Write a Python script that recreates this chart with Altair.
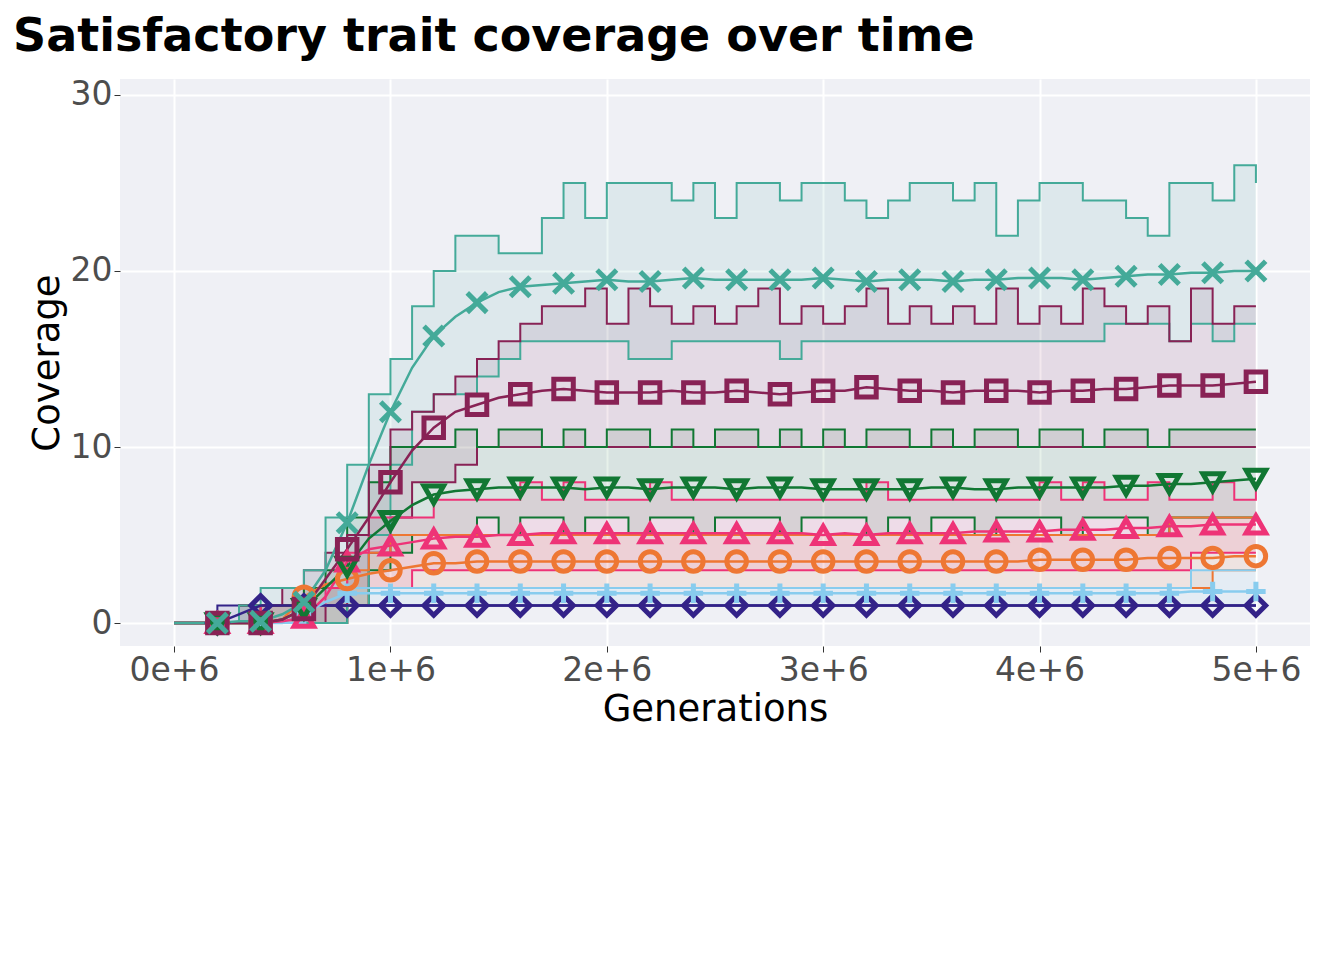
import altair as alt
import pandas as pd

generations = [i * 100000 for i in range(51)]
sigmas = ["0", "0.1", "0.3", "0.6", "1.2", "2.5", "5"]
colors = ["#332288", "#88CCEE", "#EE7733", "#EE3377", "#117733", "#882255", "#44AA99"]
shapes = [
    "diamond",
    "M0,-1L0,1M-1,0L1,0",
    "circle",
    "triangle-up",
    "triangle-down",
    "square",
    "M-1,-1L1,1M-1,1L1,-1",
]

median = {
    "0": [0, 0, 0, 0.5, 1] + [1] * 46,
    "0.1": [0, 0, 0, 0, 0, 0, 0.5, 1.2] + [1.7] * 39 + [1.8] * 4,
    "0.3": [0, 0, 0, 0, 0, 0.2, 1.5, 2.2, 2.5, 2.8, 3.0, 3.2, 3.4, 3.4] + [3.5] * 26
    + [3.6, 3.6, 3.6, 3.6, 3.6, 3.7, 3.7, 3.7, 3.7, 3.8, 3.8],
    "0.6": [0, 0, 0, 0, 0, 0.1, 0.3, 1.5, 3.5, 4.2, 4.4, 4.6, 4.8, 4.9, 4.9, 5.0, 5.0, 5.1,
            5.1, 5.1, 5.1, 5.1, 5.1, 5.1, 5.1, 5.1, 5.1, 5.1, 5.1, 5.1, 5.0, 5.1, 5.0, 5.1,
            5.1, 5.1, 5.1, 5.2, 5.2, 5.2, 5.2, 5.3, 5.3, 5.3, 5.4, 5.4, 5.5, 5.5, 5.6, 5.6, 5.6],
    "1.2": [0, 0, 0, 0, 0, 0.2, 0.8, 2, 3.2, 4.8, 5.8, 6.7, 7.3, 7.5, 7.6, 7.7, 7.7, 7.7,
            7.7, 7.6, 7.7, 7.7, 7.6, 7.7, 7.7, 7.7, 7.6, 7.7, 7.7, 7.7, 7.6, 7.6, 7.6, 7.6,
            7.6, 7.7, 7.7, 7.6, 7.6, 7.7, 7.7, 7.7, 7.7, 7.7, 7.8, 7.8, 7.9, 7.9, 8.0, 8.1, 8.2],
    "2.5": [0, 0, 0, 0, 0, 0.2, 0.8, 2.5, 4.2, 6, 8, 9.8, 11.1, 12, 12.4, 12.8, 13.0, 13.2,
            13.3, 13.2, 13.1, 13.1, 13.1, 13.2, 13.1, 13.1, 13.2, 13.1, 13.0, 13.1, 13.2,
            13.2, 13.4, 13.3, 13.2, 13.2, 13.1, 13.2, 13.2, 13.2, 13.1, 13.2, 13.2, 13.3,
            13.3, 13.4, 13.5, 13.5, 13.5, 13.6, 13.7],
    "5": [0, 0, 0, 0.1, 0.1, 0.5, 1.2, 3, 5.7, 9, 12, 14.5, 16.3, 17.4, 18.2, 18.8, 19.1,
          19.2, 19.3, 19.4, 19.5, 19.4, 19.4, 19.5, 19.6, 19.5, 19.5, 19.5, 19.5, 19.5,
          19.6, 19.5, 19.4, 19.5, 19.5, 19.5, 19.4, 19.5, 19.5, 19.6, 19.6, 19.6, 19.5,
          19.6, 19.7, 19.8, 19.8, 19.9, 19.9, 20.0, 20.0],
}
upper = {
    "0": [0, 0, 1, 1] + [1] * 47,
    "0.1": [0, 0, 0, 0, 0, 0, 1, 2] + [2] * 39 + [3] * 4,
    "0.3": [0, 0, 0, 0, 1, 1, 2, 2, 3, 4] + [5] * 36 + [6] * 5,
    "0.6": [0, 0, 0, 0, 1, 1, 1, 2, 4, 6, 6, 6, 7, 7, 7, 7, 8, 7, 8, 7, 7, 7, 8, 7, 7, 7,
            7, 7, 7, 7, 7, 7, 8, 7, 7, 7, 7, 7, 7, 7, 8, 7, 8, 7, 7, 8, 7, 7, 8, 7, 8],
    "1.2": [0, 0, 0, 1, 1, 1, 2, 3, 6, 8, 10, 10, 10, 11, 10, 11, 11, 10, 11, 10, 11, 11,
            10, 11, 10, 11, 11, 10, 11, 10, 11, 10, 11, 11, 10, 11, 10, 11, 11, 10, 11, 11,
            10, 11, 11, 10, 11, 11, 11, 11, 11],
    "2.5": [0, 0, 0, 1, 1, 2, 3, 4, 5, 9, 11, 12, 13, 14, 15, 16, 17, 18, 18, 19, 17, 19,
            18, 17, 18, 17, 18, 19, 17, 18, 17, 18, 19, 17, 18, 17, 18, 17, 19, 17, 18, 17,
            19, 18, 17, 18, 16, 19, 17, 18, 18],
    "5": [0, 0, 0, 1, 2, 2, 3, 6, 9, 13, 15, 18, 20, 22, 22, 21, 21, 23, 25, 23, 25, 25,
          25, 24, 25, 23, 25, 25, 24, 25, 25, 24, 23, 24, 25, 25, 24, 25, 22, 24, 25, 25,
          24, 24, 23, 22, 25, 25, 24, 26, 25],
}
lower = {
    "0": [0, 0, 0, 0] + [1] * 47,
    "0.1": [0] * 8 + [1] * 43,
    "0.3": [0] * 8 + [1] + [2] * 39 + [3] * 3,
    "0.6": [0] * 8 + [1, 2, 2] + [3] * 36 + [4] * 4,
    "1.2": [0, 0, 0, 0, 0, 0, 0, 0, 1, 3, 4, 5, 5, 5, 6, 5, 6, 6, 5, 6, 6, 5, 6, 6, 5, 6,
            6, 6, 5, 6, 6, 6, 5, 6, 5, 6, 6, 5, 6, 6, 6, 5, 6, 6, 6, 5, 6, 6, 6, 6, 6],
    "2.5": [0, 0, 0, 0, 0, 0, 0, 1, 2, 4, 6, 8, 8, 9] + [10] * 37,
    "5": [0, 0, 0, 0, 0, 0, 0, 0, 1, 5, 9, 12, 13, 13, 14, 15, 16, 16, 16, 16, 16, 15, 15,
          16, 16, 16, 16, 16, 15, 16, 16, 16, 16, 16, 16, 16, 16, 16, 16, 16, 16, 16, 16,
          17, 17, 17, 16, 17, 16, 17, 17],
}

rows = []
for s in sigmas:
    for i, g in enumerate(generations):
        rows.append({"gen": g, "sigma": s, "med": median[s][i],
                     "lo": lower[s][i], "hi": upper[s][i]})
df = pd.DataFrame(rows)

x = alt.X("gen:Q", title="Generations",
          scale=alt.Scale(domain=[-250000, 5250000], nice=False, zero=False),
          axis=alt.Axis(values=[0, 1e6, 2e6, 3e6, 4e6, 5e6],
                        labelExpr="datum.value == 0 ? '0e+6' : (datum.value/1e6) + 'e+6'"))
y = alt.Y("med:Q", title="Coverage",
          scale=alt.Scale(domain=[-1.3, 30.9], nice=False, zero=False),
          axis=alt.Axis(values=[0, 10, 20, 30]))
scale = alt.Scale(domain=sigmas, range=colors)
plain_color = alt.Color("sigma:N", sort=sigmas, legend=None, scale=scale)
color = alt.Color("sigma:N", title="Sigma", sort=sigmas, scale=scale)
shape = alt.Shape("sigma:N", title="Sigma", sort=sigmas,
                  scale=alt.Scale(domain=sigmas, range=shapes))

base = alt.Chart(df)
band = base.mark_area(opacity=0.1, interpolate="step-after").encode(
    x=x, y=alt.Y("lo:Q"), y2="hi:Q", color=plain_color)
hi_line = base.mark_line(strokeWidth=2, interpolate="step-after").encode(
    x=x, y=alt.Y("hi:Q"), color=plain_color)
lo_line = base.mark_line(strokeWidth=2, interpolate="step-after").encode(
    x=x, y=alt.Y("lo:Q"), color=plain_color)
med_line = base.mark_line(strokeWidth=2.5).encode(x=x, y=y, color=plain_color)
points = base.transform_filter(
    "datum.gen > 0 && datum.gen % 200000 == 0"
).mark_point(filled=False, size=380, strokeWidth=5, opacity=1).encode(
    x=x, y=y, color=color, shape=shape)

chart = (
    alt.layer(band, lo_line, hi_line, med_line, points)
    .properties(width=1190, height=567,
                title=alt.Title("Satisfactory trait coverage over time", fontSize=46,
                                fontWeight="bold", anchor="start", font="DejaVu Sans",
                                dx=-15, offset=18))
    .configure_view(fill="#EFF0F5", stroke=None)
    .configure_axis(grid=True, gridColor="white", gridWidth=2, domain=False,
                    tickColor="#333333", tickSize=6, labelFontSize=33, labelColor="#4d4d4d",
                    titleFontSize=37, titleFontWeight="normal", titleColor="black",
                    labelFont="DejaVu Sans", titleFont="DejaVu Sans")
    .configure_legend(orient="bottom", direction="horizontal", titleOrient="bottom",
                      titleAnchor="middle", titleFontSize=37, titleFontWeight="normal",
                      labelFontSize=32, symbolSize=600, symbolStrokeWidth=4,
                      titleFont="DejaVu Sans", labelFont="DejaVu Sans", columnPadding=25,
                      labelColor="black", titleColor="black", offset=30, titlePadding=20)
)

chart.save("out.html", embed_options={"renderer": "svg", "actions": False})
